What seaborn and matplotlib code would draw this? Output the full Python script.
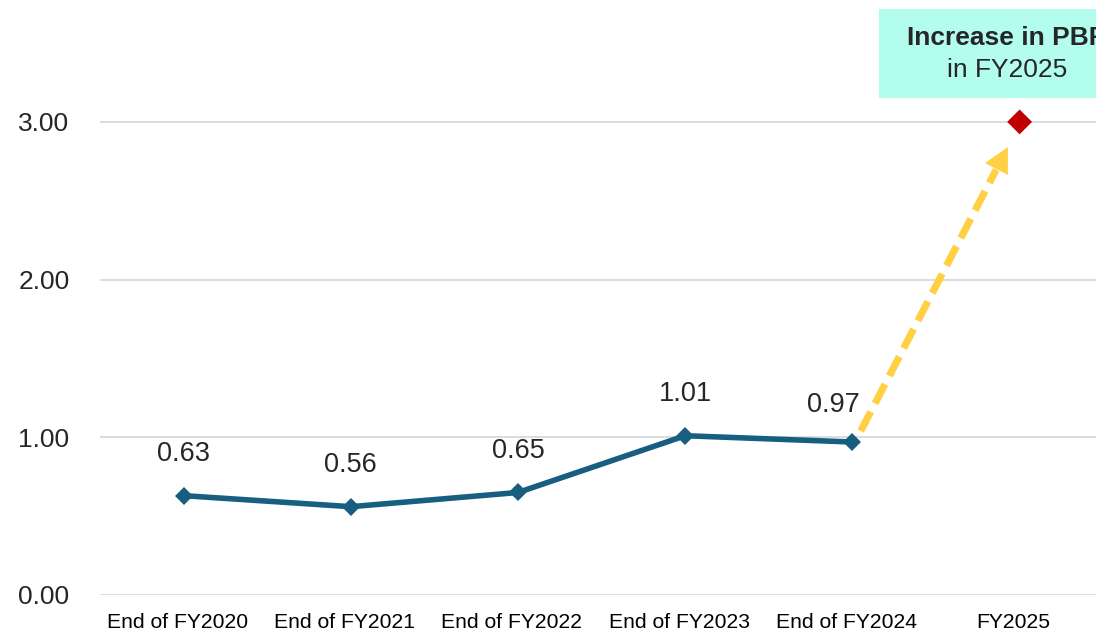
import numpy as np
import pandas as pd
import matplotlib
matplotlib.use("Agg")
import matplotlib.pyplot as plt
import seaborn as sns

# --- data -------------------------------------------------------------
categories = ["End of FY2020", "End of FY2021", "End of FY2022",
              "End of FY2023", "End of FY2024", "FY2025"]
pbr_actual = [0.63, 0.56, 0.65, 1.01, 0.97]
pbr_target = 3.00
y_ticks = [0.0, 1.0, 2.0, 3.0]
callout_title = "Increase in PBR"
callout_sub = "in FY2025"

# --- style ------------------------------------------------------------
sns.set_theme(style="white")
plt.rcParams["font.family"] = ["Liberation Sans", "DejaVu Sans"]

LINE_C = "#175E80"
TARGET_C = "#C00000"
ARROW_C = "#FFD044"
GRID_C = "#D9D9D9"
TEXT_C = "#262626"

W, H = 1096, 633
fig = plt.figure(figsize=(W / 100, H / 100), dpi=100)
ax = fig.add_axes([100 / W, 38 / H, 1 - 100 / W, 595 / H])

x_pos = np.arange(len(categories))
df = pd.DataFrame({"x": x_pos[:len(pbr_actual)], "pbr": pbr_actual})

sns.lineplot(data=df, x="x", y="pbr", ax=ax, color=LINE_C, linewidth=4,
             marker="D", markersize=9.5, markeredgewidth=0, zorder=3)
sns.scatterplot(x=[x_pos[-1]], y=[pbr_target], ax=ax, marker="D", s=160,
                color=TARGET_C, edgecolor="none", zorder=4)

# value labels
for i, v in enumerate(pbr_actual):
    dx, dy = (0, 30) if i < len(pbr_actual) - 1 else (-14, 27)
    ax.annotate(f"{v:.2f}", xy=(x_pos[i], v), xytext=(dx, dy),
                textcoords="offset points", ha="center", va="center",
                fontsize=19.5, color=TEXT_C)

# axes
ax.set_xlim(-0.5, -0.5 + 996 / 167.2)
ax.set_ylim(0, 595 / 157.7)
ax.set_yticks(y_ticks)
ax.set_yticklabels([f"{t:.2f}" for t in y_ticks], fontsize=19, color=TEXT_C)
# category labels sit slightly left of their points
ax.set_xticks(x_pos - 0.036)
ax.set_xticklabels(categories, fontsize=15.2, color="black")
ax.tick_params(axis="y", length=0, pad=22)
ax.tick_params(axis="x", length=0, pad=13)
ax.set_xlabel("")
ax.set_ylabel("")
ax.grid(axis="y", color=GRID_C, linewidth=1.3)
ax.grid(axis="x", visible=False)
ax.set_axisbelow(True)
for s in ax.spines.values():
    s.set_visible(False)

# dashed arrow from the last actual value up to the target
start = np.array([x_pos[4] + 0.05, pbr_actual[-1] + 0.07])
tip = np.array([x_pos[5] - 0.07, pbr_target - 0.16])
base = start + (tip - start) * 0.92
ax.plot([start[0], base[0]], [start[1], base[1]], color=ARROW_C,
        linewidth=5.2, dashes=(3.0, 1.3), solid_capstyle="butt",
        dash_capstyle="butt", zorder=2)
ax.annotate("", xy=tip, xytext=start + (tip - start) * 0.90,
            arrowprops=dict(arrowstyle="-|>,head_length=0.85,head_width=0.45",
                            mutation_scale=20, color=ARROW_C, lw=0.5,
                            shrinkA=0, shrinkB=0),
            zorder=2)

# callout box
fig.patches.append(plt.Rectangle((879 / W, 1 - 98 / H), 256 / W, 89 / H,
                                 transform=fig.transFigure,
                                 facecolor="#B3FDEE", edgecolor="none",
                                 zorder=0))
fig.text(1007 / W, 1 - 38 / H, callout_title, ha="center", va="center",
         fontsize=19, fontweight="bold", color=TEXT_C)
fig.text(1007 / W, 1 - 70 / H, callout_sub, ha="center", va="center",
         fontsize=19, color=TEXT_C)

fig.savefig("out.png", dpi=100)
